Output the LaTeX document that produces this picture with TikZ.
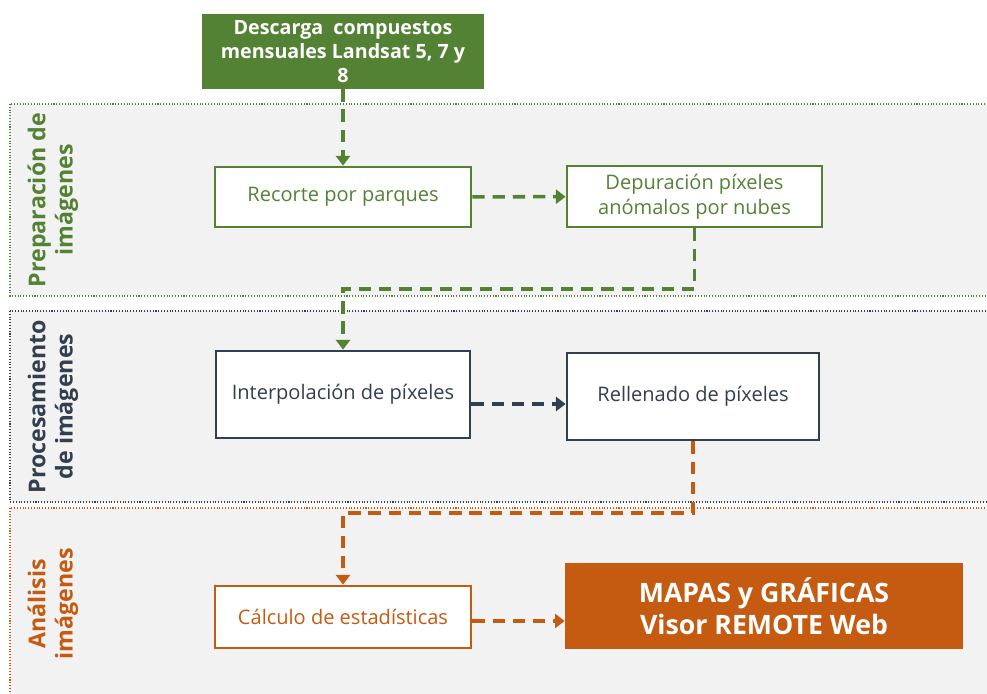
\documentclass[tikz,border=0pt]{standalone}
\usepackage{fontspec}
\setmainfont{Open Sans}
\usepackage{tikz}
\usetikzlibrary{positioning, arrows.meta}
\tikzstyle{pixelGrid} = [x = .02cm, y = -.02cm]
\definecolor{prepColor}{RGB}{84,130,53}
\definecolor{procColor}{RGB}{50,63,79}
\definecolor{anaColor}{RGB}{197,90,17}
\definecolor{bandFill}{RGB}{242,242,242}
\tikzstyle{bandStyle} = [fill=bandFill, densely dotted, line width=.6pt]
\tikzstyle{bandLabel} = [rotate=90, align=center, font=\bfseries\fontsize{13.2}{15.5}\selectfont]
\tikzstyle{stepBox} = [draw, fill=white, line width=1.6pt, align=center, font=\fontsize{11.4}{14}\selectfont]
\tikzstyle{solidBox} = [align=center, text=white, font=\bfseries\fontsize{11.2}{13.9}\selectfont]
\tikzstyle{flowArrow} = [line width=2pt, dash pattern=on 7pt off 4.5pt, -{Triangle[length=5.5pt, width=8pt]}]
\newcommand{\processBand}[5]{
  \filldraw [bandStyle, draw=#1] (10, #2) rectangle (990, #3);
  \node [bandLabel, text=#1] (#4) at (53, {(#2 + #3) / 2}) {#5};
}
\newcommand{\stepNode}[6]{\node [stepBox, draw=#1, text=#1, minimum width=#2, minimum height=#3] (#4) at (#5) {#6};}

\begin{document}
\begin{tikzpicture}[pixelGrid]
  \useasboundingbox (0,0) rectangle (987,693);
  \processBand{prepColor}{104}{296}{prepLabel}{Preparación de\\imágenes}
  \processBand{procColor}{311}{502}{procLabel}{Procesamiento\\de imágenes}
  \processBand{anaColor}{508}{700}{anaLabel}{Análisis\\imágenes}

  \node [solidBox, fill=prepColor, minimum width=5.64cm, minimum height=1.46cm] (download) at (343, 51.5) {Descarga\ \ compuestos\\mensuales Landsat 5, 7 y\\8};

  \stepNode{prepColor}{5.12cm}{1.2cm}{crop}{343, 197}{Recorte por parques}
  \stepNode{prepColor}{5.1cm}{1.22cm}{clean}{694.5, 196.5}{Depuración píxeles\\anómalos por nubes}
  \stepNode{procColor}{5.08cm}{1.74cm}{interp}{343, 394.5}{Interpolación de píxeles}
  \stepNode{procColor}{5.04cm}{1.74cm}{fill}{693, 396.5}{Rellenado de píxeles}
  \stepNode{anaColor}{5.12cm}{1.24cm}{stats}{343, 617}{Cálculo de estadísticas}

  \node [solidBox, fill=anaColor, minimum width=7.96cm, minimum height=1.72cm, font=\bfseries\fontsize{15.2}{18}\selectfont] (maps) at (764, 606) {MAPAS y GRÁFICAS\\Visor REMOTE Web};

  \coordinate (prepBend) at (343, 289);
  \coordinate (procBend) at (343, 513);

  % green
  \draw [flowArrow, prepColor] (download) -- (crop);
  \draw [flowArrow, prepColor] (crop) -- (clean);
  \draw [flowArrow, prepColor] (clean.south) |- (prepBend) -- (interp.north);
  % grey
  \draw [flowArrow, procColor] ([yshift=-.19cm]interp.east) -- ([yshift=-.19cm]interp.east -| fill.west);
  % orange
  \draw [flowArrow, anaColor] (fill.south) |- (procBend) -- (stats.north);
  \draw [flowArrow, anaColor] ([yshift=-.08cm]stats.east) -- ([yshift=-.08cm]stats.east -| maps.west);
\end{tikzpicture}
\end{document}
